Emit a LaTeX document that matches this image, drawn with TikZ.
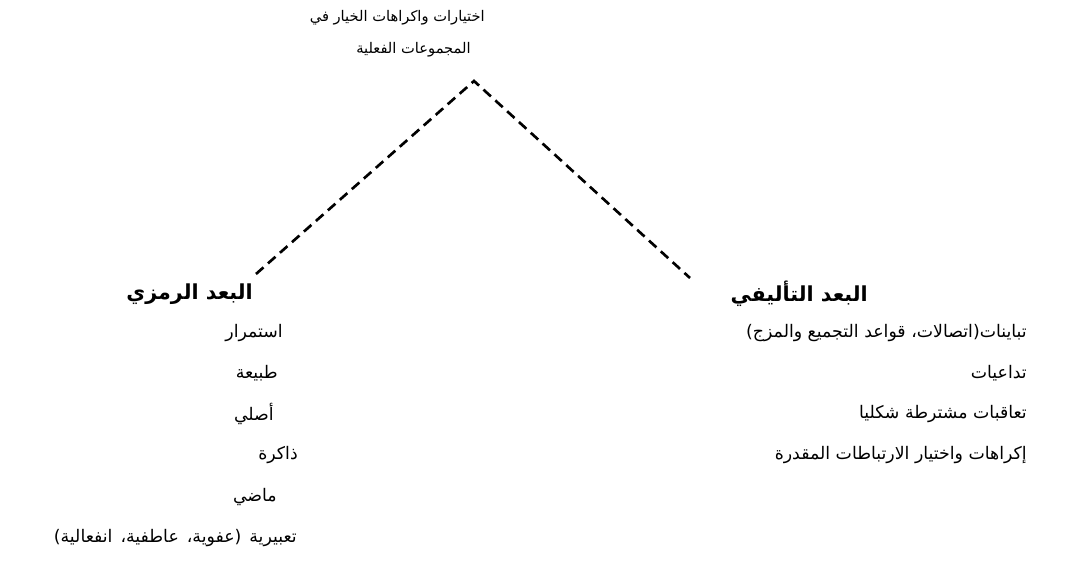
\documentclass[tikz,border=0pt]{standalone}
\usepackage{fontspec}
\newfontfamily\arabicfont[Script=Arabic]{DejaVu Sans}
\TeXXeTstate=1
\newcommand{\artxt}[1]{\beginR #1\endR}
\tikzset{
  toptext/.style={anchor=east, inner sep=0pt, font=\arabicfont\fontsize{11}{13}\selectfont},
  item/.style={anchor=east, inner sep=0pt, font=\arabicfont\fontsize{13}{15}\selectfont},
  heading/.style={anchor=east, inner sep=0pt, font=\arabicfont\bfseries\fontsize{15.5}{17}\selectfont},
  conn/.style={dash pattern=on 7.5pt off 4.5pt, line width=2pt, black},
}
\begin{document}
\begin{tikzpicture}[x=0.75pt, y=-0.75pt]
\useasboundingbox (0,0) rectangle (1073,564);
% top text
\node[toptext] (t1) at (485,18) {\artxt{اختيارات واكراهات الخيار في}};
\node[toptext] (t2) at (471,50) {\artxt{المجموعات الفعلية}};
% connector points
\coordinate (apex) at (474,81);
\coordinate (lend) at (256,274);
\coordinate (rend) at (690,278);
\draw[conn] (lend) -- (apex) -- (rend);
% headings
\node[heading] (hl) at (253,294) {\artxt{البعد الرمزي}};
\node[heading] (hr) at (868,294) {\artxt{البعد التأليفي}};
% left list
\node[item] (l1) at (283,333) {\artxt{استمرار}};
\node[item] (l2) at (278,373) {\artxt{طبيعة}};
\node[item] (l3) at (274,414) {\artxt{أصلي}};
\node[item] (l4) at (298,455) {\artxt{ذاكرة}};
\node[item] (l5) at (277,497) {\artxt{ماضي}};
\node[item] (l6) at (297,538) {\spaceskip=6pt\relax\artxt{تعبيرية (عفوية، عاطفية، انفعالية)}};
% right list
\node[item] (r1) at (1027,333) {\artxt{تباينات(اتصالات، قواعد التجميع والمزج)}};
\node[item] (r2) at (1027,373) {\artxt{تداعيات}};
\node[item] (r3) at (1027,414) {\artxt{تعاقبات مشترطة شكليا}};
\node[item] (r4) at (1027,455) {\artxt{إكراهات واختيار الارتباطات المقدرة}};
\end{tikzpicture}
\end{document}
